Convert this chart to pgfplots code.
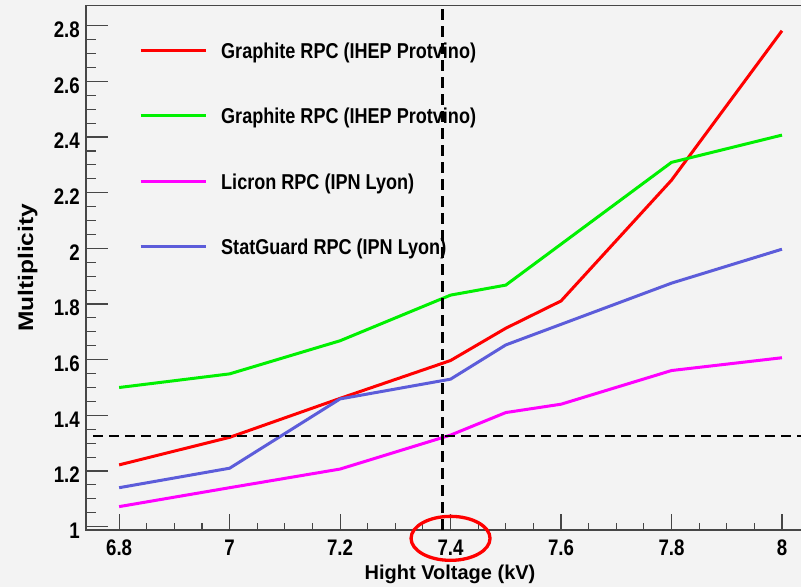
\documentclass[border=0pt]{standalone}
\usepackage{pgfplots}
\pgfplotsset{compat=1.18}
\usepackage{fontspec}
\setmainfont{Liberation Sans}
\definecolor{bg}{RGB}{243,243,243}
\definecolor{cred}{RGB}{255,0,0}
\definecolor{cgreen}{RGB}{0,240,0}
\definecolor{cmag}{RGB}{255,0,255}
\definecolor{cblue}{RGB}{92,92,218}
\definecolor{axc}{RGB}{70,70,70}
\newcommand{\tl}[1]{\scalebox{0.83}[1]{#1}}
\newcommand{\lgt}[1]{\scalebox{0.84}[1]{#1}}
\pgfplotsset{common/.style={
  at={(86pt,57pt)}, anchor=south west, scale only axis,
  width=728pt, height=524.3pt,
  xmin=6.74, xmax=8.058, ymin=0.988, ymax=2.872,
  tick align=inside,
  axis line style={axc, line width=1.3pt},
  tick style={axc, line width=1.1pt},
}}
\begin{document}
\begin{tikzpicture}
\fill[bg] (0,0) rectangle (801pt,587pt);
\path[use as bounding box] (0,0) rectangle (801pt,587pt);
\begin{axis}[common, clip=false,
  xtick={6.8,7,7.2,7.4,7.6,7.8,8},
  xticklabels={\tl{6.8},\tl{7},\tl{7.2},\tl{7.4},\tl{7.6},\tl{7.8},\tl{8}},
  minor x tick num=3, xtick pos=left, ytick=\empty,
  major tick length=16pt, minor tick length=7pt,
  xticklabel style={font=\bfseries\fontsize{22.5}{26}\selectfont, anchor=north, inner sep=0pt, yshift=-10pt},
  xlabel={Hight Voltage (kV)},
  xlabel style={font=\bfseries\fontsize{20}{24}\selectfont, at={(axis description cs:0.5,-0.0935)}, anchor=base, inner sep=0pt},
  legend cell align=left,
  legend style={at={(axis description cs:0.0728,0.9346)}, anchor=north west, draw=none, fill=none, inner sep=0pt, row sep=45pt, font=\bfseries\fontsize{21.5}{25}\selectfont, nodes={inner sep=0pt, text height=18pt, text depth=2.5pt}, /tikz/every odd column/.append style={column sep=14pt}},
  legend image code/.code={\draw[#1] (0pt,0pt) -- (65pt,0pt);},
]
\addplot[cred, line width=3pt] coordinates {(6.8,1.222) (7.0,1.321) (7.2,1.461) (7.4,1.597) (7.5,1.713) (7.6,1.811) (7.8,2.245) (8.0,2.782)};
\addlegendentry{\lgt{Graphite RPC (IHEP Protvino)}}
\addplot[cgreen, line width=3pt] coordinates {(6.8,1.500) (7.0,1.549) (7.2,1.668) (7.4,1.832) (7.5,1.868) (7.8,2.309) (8.0,2.407)};
\addlegendentry{\lgt{Graphite RPC (IHEP Protvino)}}
\addplot[cmag, line width=3pt] coordinates {(6.8,1.072) (7.0,1.140) (7.2,1.207) (7.4,1.329) (7.5,1.410) (7.6,1.440) (7.8,1.561) (8.0,1.607)};
\addlegendentry{\lgt{Licron RPC (IPN Lyon)}}
\addplot[cblue, line width=3pt] coordinates {(6.8,1.140) (7.0,1.210) (7.2,1.459) (7.4,1.530) (7.5,1.653) (7.8,1.875) (8.0,1.997)};
\addlegendentry{\lgt{StatGuard RPC (IPN Lyon)}}
\addplot[black, line width=2.6pt, dash pattern=on 10pt off 6pt, forget plot] coordinates {(6.7535,1.326) (8.058,1.326)};
\addplot[black, line width=2.6pt, dash pattern=on 11pt off 6pt, forget plot] coordinates {(7.385,0.988) (7.385,2.872)};
\draw[cred, line width=3.3pt] (axis cs:7.4,0.958) ellipse [x radius=39.5pt, y radius=22pt];
\end{axis}
\begin{axis}[common, xtick=\empty,
  ytick={1,1.2,1.4,1.6,1.8,2,2.2,2.4,2.6,2.8},
  yticklabels={\tl{1},\tl{1.2},\tl{1.4},\tl{1.6},\tl{1.8},\tl{2},\tl{2.2},\tl{2.4},\tl{2.6},\tl{2.8}},
  minor y tick num=3, ytick pos=left,
  major tick length=22pt, minor tick length=10pt,
  axis line style={draw=none},
  yticklabel style={font=\bfseries\fontsize{22.5}{26}\selectfont, anchor=east, inner sep=0pt, xshift=-6pt, yshift=-4pt},
  ylabel={\scalebox{1}[0.86]{Multiplicity}},
  ylabel style={font=\bfseries\fontsize{24.5}{28}\selectfont, at={(axis description cs:-0.0728,0.5)}, anchor=base, inner sep=0pt},
]
\end{axis}
\end{tikzpicture}
\end{document}
